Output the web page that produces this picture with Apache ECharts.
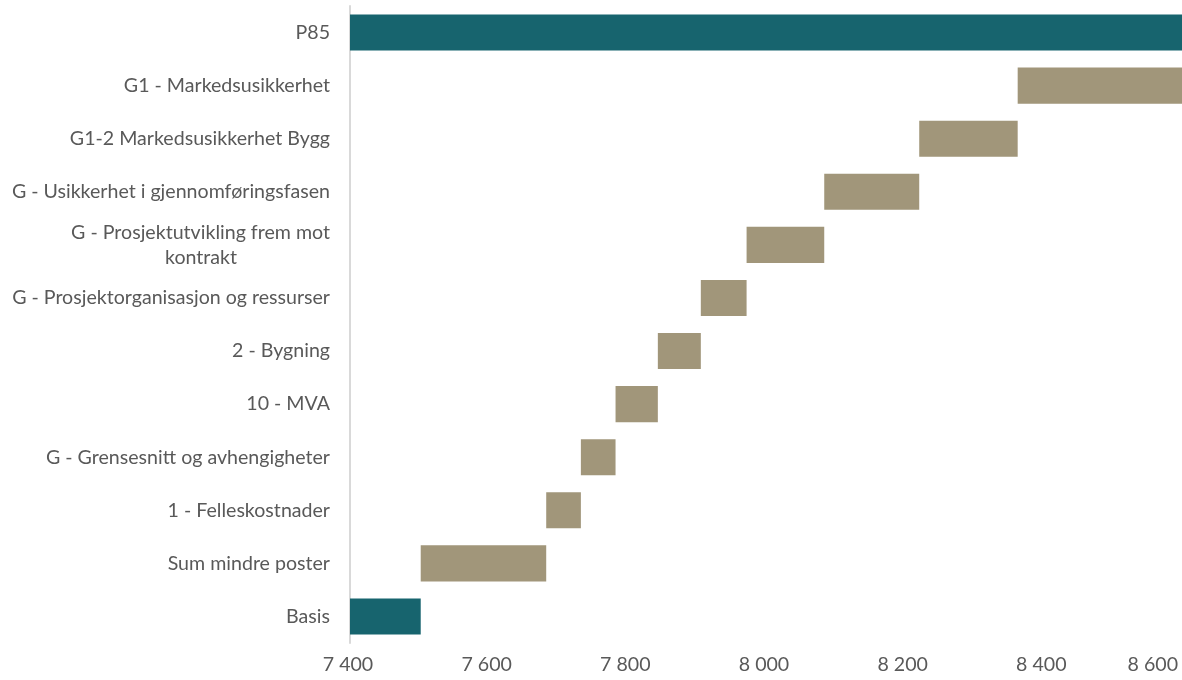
<!DOCTYPE html>
<html>
<head>
<meta charset="utf-8">
<script src="https://cdn.jsdelivr.net/npm/echarts@6/dist/echarts.min.js"></script>
<style>
  html, body { margin: 0; padding: 0; background: #fff; }
  #chart { width: 1182px; height: 680px; }
</style>
</head>
<body>
<div id="chart"></div>
<script>
// Cost build-up from base estimate to P85, bottom to top
const categories = [
  'Basis',
  'Sum mindre poster',
  '1 - Felleskostnader',
  'G - Grensesnitt og avhengigheter',
  '10 - MVA',
  '2 - Bygning',
  'G - Prosjektorganisasjon og ressurser',
  'G - Prosjektutvikling frem mot kontrakt',
  'G - Usikkerhet i gjennomføringsfasen',
  'G1-2 Markedsusikkerhet Bygg',
  'G1 - Markedsusikkerhet',
  'P85'
];
const basisValue = 7502;
const increments = [181, 50, 50, 61, 62, 66, 112, 137, 142, 237];
const p85Value = 8600;
const xTicks = [7400, 7600, 7800, 8000, 8200, 8400, 8600];

const TEAL = '#17646E';
const TAN = '#A1967A';
const TEXT = '#595959';
const FONT = 'Lato, "Open Sans", sans-serif';
const FONT_SIZE = 19.6;
const LINE_H = 25;

// Waterfall: invisible offset bars carry each step up to where the previous step ended
const offsets = [0];
const visible = [{ value: basisValue, itemStyle: { color: TEAL } }];
let running = basisValue;
increments.forEach(v => {
  offsets.push(running);
  visible.push({ value: v, itemStyle: { color: TAN } });
  running += v;
});
offsets.push(0);
visible.push({ value: p85Value, itemStyle: { color: TEAL } });

// Wrapped category label: second line centred under the right-aligned first line
const wrapFirst = 'G - Prosjektutvikling frem mot';
const wrapSecond = 'kontrakt';
const ctx = document.createElement('canvas').getContext('2d');
ctx.font = FONT_SIZE + 'px ' + FONT;
const wrapPad = Math.round((ctx.measureText(wrapFirst).width - ctx.measureText(wrapSecond).width) / 2);

const chart = echarts.init(document.getElementById('chart'));
chart.setOption({
  animation: false,
  backgroundColor: '#ffffff',
  grid: {
    left: 350, right: 0, top: 6, bottom: 37,
    containLabel: false,
    outerBoundsMode: 'none'
  },
  xAxis: {
    type: 'value',
    min: xTicks[0],
    max: xTicks[xTicks.length - 1],
    interval: xTicks[1] - xTicks[0],
    axisLine: { show: false },
    axisTick: { show: false },
    splitLine: { show: false },
    axisLabel: {
      color: TEXT,
      fontFamily: FONT,
      fontSize: FONT_SIZE,
      margin: 12,
      alignMaxLabel: 'right',
      padding: [0, 4, 0, 0],
      formatter: v => String(v).replace(/\B(?=(\d{3})+(?!\d))/g, ' ')
    }
  },
  yAxis: {
    type: 'category',
    data: categories,
    axisLine: { show: true, lineStyle: { color: '#D9D9D9', width: 2 } },
    axisTick: { show: false },
    splitLine: { show: false },
    axisLabel: {
      color: TEXT,
      fontFamily: FONT,
      fontSize: FONT_SIZE,
      margin: 20,
      lineHeight: LINE_H,
      formatter: v => v === wrapFirst + ' ' + wrapSecond
        ? '{a|' + wrapFirst + '}\n{b|' + wrapSecond + '}'
        : v,
      rich: {
        a: {
          color: TEXT,
          fontFamily: FONT,
          fontSize: FONT_SIZE,
          lineHeight: LINE_H
        },
        b: {
          color: TEXT,
          fontFamily: FONT,
          fontSize: FONT_SIZE,
          lineHeight: LINE_H,
          padding: [0, wrapPad, 0, 0]
        }
      }
    }
  },
  series: [
    {
      type: 'bar',
      stack: 'wf',
      data: offsets,
      itemStyle: { color: 'transparent' },
      emphasis: { disabled: true },
      silent: true,
      barWidth: '68%'
    },
    {
      type: 'bar',
      stack: 'wf',
      data: visible,
      barWidth: '68%',
      clip: true
    }
  ]
});
</script>
</body>
</html>
